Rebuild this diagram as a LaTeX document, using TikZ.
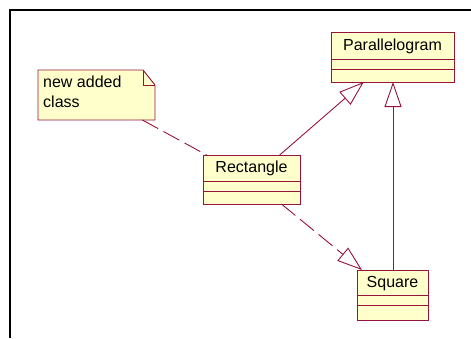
\documentclass[tikz,border=0pt]{standalone}
\usepackage{fontspec}
\setmainfont{Liberation Sans}
\usetikzlibrary{arrows.meta}
\definecolor{umlline}{RGB}{150,20,60}
\definecolor{umlfill}{RGB}{255,255,204}
\begin{document}
\begin{tikzpicture}[x=1pt,y=-1pt,
  classbox/.style={draw=umlline,fill=umlfill,line width=0.9pt,inner sep=0pt,outer sep=0pt},
  classname/.style={font=\fontsize{16}{20}\selectfont,inner sep=0pt},
  divider/.style={draw=umlline,line width=0.9pt},
  conn/.style={draw=umlline,line width=0.9pt},
  dashconn/.style={conn,dash pattern=on 18pt off 6pt},
  gen/.style={-{Triangle[length=25pt,width=17pt,fill=white]}}]
\useasboundingbox (0,0) rectangle (471,338);
% frame
\draw[black,line width=1.2pt] (10,338) -- (10,10) -- (471,10);

% Parallelogram
\node[classbox,minimum width=123pt,minimum height=50pt] (para) at (392.5,57) {};
\node[classname] (paraname) at (392.5,46) {Parallelogram};
\draw[divider] (para.west |- 0,59) -- (para.east |- 0,59);
\draw[divider] (para.west |- 0,69) -- (para.east |- 0,69);

% Rectangle
\node[classbox,minimum width=97pt,minimum height=49pt] (rect) at (251.5,179.5) {};
\node[classname] (rectname) at (251.5,168.5) {Rectangle};
\draw[divider] (rect.west |- 0,181) -- (rect.east |- 0,181);
\draw[divider] (rect.west |- 0,191) -- (rect.east |- 0,191);

% Square
\node[classbox,minimum width=71pt,minimum height=50pt] (sq) at (392.5,295) {};
\node[classname] (sqname) at (392.5,284) {Square};
\draw[divider] (sq.west |- 0,295) -- (sq.east |- 0,295);
\draw[divider] (sq.west |- 0,305) -- (sq.east |- 0,305);

% Note
\node[inner sep=0pt,outer sep=0pt,minimum width=117pt,minimum height=50pt] (note) at (96.5,95) {};
\draw[classbox] (note.south west) -- (note.north west) -- ([xshift=-12pt]note.north east)
  -- ([yshift=-15pt]note.north east) -- (note.south east) -- cycle;
\draw[divider] ([xshift=-12pt]note.north east) -- ([xshift=-12pt,yshift=-15pt]note.north east)
  -- ([yshift=-15pt]note.north east);
\node[classname,anchor=base west] (notetext1) at (43,87) {new added};
\node[classname,anchor=base west] (notetext2) at (43,107) {class};

% connectors
\draw[dashconn] (note) -- (rect);
\draw[conn,gen] (rect) -- (para);
\draw[conn,gen] (sq.north -| 393,0) -- (para.south -| 393,0);
\draw[dashconn,gen] (rect) -- (sq);
\end{tikzpicture}
\end{document}
